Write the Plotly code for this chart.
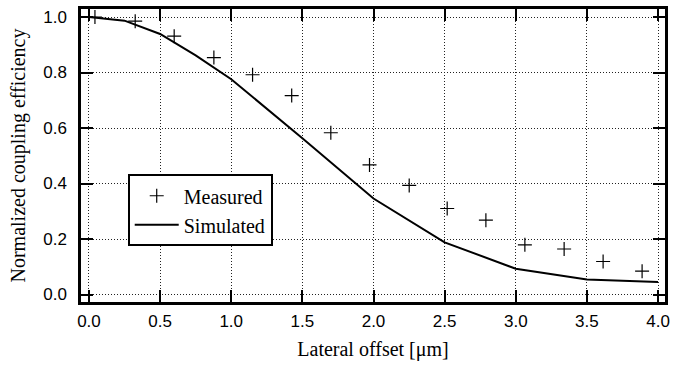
import plotly.graph_objects as go

# Measured data
meas_x = [0.042, 0.325, 0.599, 0.878, 1.15, 1.425, 1.70, 1.972, 2.251, 2.518, 2.79, 3.064, 3.34, 3.614, 3.888]
meas_y = [1.0, 0.985, 0.931, 0.854, 0.792, 0.717, 0.583, 0.467, 0.393, 0.310, 0.268, 0.179, 0.164, 0.119, 0.084]

# Simulated curve
sim_x = [0.0, 0.25, 0.5, 0.75, 1.0, 1.5, 2.0, 2.5, 3.0, 3.5, 4.0]
sim_y = [1.0, 0.987, 0.939, 0.862, 0.776, 0.563, 0.346, 0.188, 0.093, 0.054, 0.045]

x_ticks = [0.0, 0.5, 1.0, 1.5, 2.0, 2.5, 3.0, 3.5, 4.0]
y_ticks = [0.0, 0.2, 0.4, 0.6, 0.8, 1.0]

serif = "Liberation Serif, Times New Roman, serif"
sans = "Liberation Sans, Arial, sans-serif"

fig = go.Figure()
fig.add_trace(go.Scatter(
    x=meas_x, y=meas_y, mode="markers", name="Measured",
    marker=dict(symbol="cross-thin-open", size=10, color="black",
                line=dict(color="black", width=1.2)),
))
fig.add_trace(go.Scatter(
    x=sim_x, y=sim_y, mode="lines", name="Simulated",
    line=dict(color="black", width=2),
))

axis_common = dict(
    showline=True, linecolor="black", linewidth=2.5, mirror="ticks",
    ticks="inside", ticklen=12, tickwidth=2, tickcolor="black",
    showgrid=True, gridcolor="#222", gridwidth=1, griddash="1px,2px",
    zeroline=False,
    tickfont=dict(family=sans, size=17, color="black"),
)

fig.update_xaxes(
    range=[-0.056, 4.049], tickvals=x_ticks,
    ticktext=[f"{v:.1f}" for v in x_ticks],
    ticklabelstandoff=2,
    title=dict(text="Lateral offset [μm]", font=dict(family=serif, size=20, color="black"), standoff=12),
    **axis_common,
)
fig.update_yaxes(
    range=[-0.027, 1.029], tickvals=y_ticks,
    ticktext=[f"{v:.1f}" for v in y_ticks],
    ticklabelstandoff=8,
    title=dict(text="Normalized coupling efficiency", font=dict(family=serif, size=20, color="black"), standoff=13),
    **axis_common,
)

fig.update_layout(
    width=676, height=370,
    margin=dict(l=81, r=6, t=6, b=68),
    paper_bgcolor="white", plot_bgcolor="white",
    showlegend=True,
    legend=dict(
        x=0.08, y=0.436, xanchor="left", yanchor="top",
        bgcolor="white", bordercolor="black", borderwidth=2,
        font=dict(family=serif, size=20, color="black"),
        itemwidth=44, tracegroupgap=0,
    ),
)

fig.write_html("out.html")
